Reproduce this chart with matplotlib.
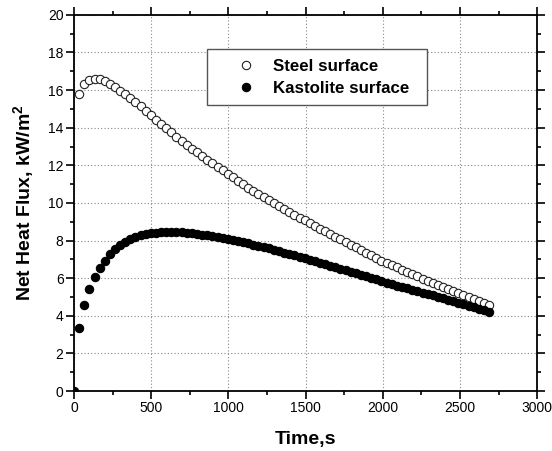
import matplotlib
matplotlib.use("Agg")
import matplotlib.pyplot as plt
from matplotlib.patches import Rectangle
from matplotlib.ticker import MultipleLocator

plt.rcParams['font.family'] = ['Liberation Sans', 'DejaVu Sans']
plt.rcParams['mathtext.fontset'] = 'custom'
plt.rcParams['mathtext.bf'] = 'Liberation Sans:bold'
plt.rcParams['mathtext.rm'] = 'Liberation Sans'

# time of each sample, s
time_s = [0, 33, 66, 100, 133, 166, 199, 232, 266, 299, 332, 365, 398, 432, 465,
          498, 531, 564, 598, 631, 664, 697, 730, 764, 797, 830, 863, 896, 930,
          963, 996, 1029, 1062, 1096, 1129, 1162, 1195, 1228, 1262, 1295, 1328,
          1361, 1394, 1428, 1461, 1494, 1527, 1560, 1594, 1627, 1660, 1693, 1726,
          1760, 1793, 1826, 1859, 1892, 1926, 1959, 1992, 2025, 2058, 2092, 2125,
          2158, 2191, 2224, 2258, 2291, 2324, 2357, 2390, 2424, 2457, 2490, 2523,
          2556, 2590, 2623, 2656, 2689]

# steel surface has no point at t=0
steel = [15.78, 16.31, 16.54, 16.60, 16.58, 16.47, 16.33, 16.15, 15.97, 15.78,
         15.57, 15.36, 15.13, 14.90, 14.66, 14.43, 14.20, 13.97, 13.75, 13.53,
         13.31, 13.10, 12.89, 12.69, 12.49, 12.30, 12.11, 11.92, 11.73, 11.54,
         11.36, 11.18, 11.00, 10.82, 10.65, 10.48, 10.31, 10.14, 9.98, 9.82,
         9.67, 9.52, 9.37, 9.22, 9.07, 8.93, 8.79, 8.64, 8.50, 8.36, 8.21, 8.07,
         7.93, 7.79, 7.64, 7.50, 7.36, 7.22, 7.07, 6.93, 6.81, 6.69, 6.57, 6.45,
         6.33, 6.21, 6.10, 5.98, 5.87, 5.75, 5.64, 5.53, 5.42, 5.31, 5.20, 5.09,
         4.98, 4.87, 4.76, 4.68, 4.60]

kastolite = [0.0, 3.37, 4.57, 5.41, 6.05, 6.53, 6.93, 7.27, 7.54, 7.77, 7.94,
             8.07, 8.18, 8.27, 8.33, 8.38, 8.41, 8.43, 8.45, 8.45, 8.45, 8.43,
             8.41, 8.38, 8.35, 8.31, 8.27, 8.23, 8.18, 8.13, 8.08, 8.03, 7.97,
             7.91, 7.85, 7.79, 7.72, 7.65, 7.58, 7.51, 7.44, 7.36, 7.29, 7.21,
             7.13, 7.05, 6.97, 6.89, 6.81, 6.73, 6.65, 6.57, 6.49, 6.41, 6.33,
             6.25, 6.17, 6.09, 6.01, 5.93, 5.85, 5.77, 5.69, 5.61, 5.53, 5.46,
             5.38, 5.30, 5.23, 5.15, 5.08, 5.00, 4.93, 4.86, 4.79, 4.70, 4.62,
             4.54, 4.45, 4.37, 4.29, 4.21]

fig = plt.figure(figsize=(5.52, 4.51), dpi=100)
ax = fig.add_axes([0.134, 0.133, 0.839, 0.834])

ax.plot(time_s[1:], steel, 'o', ms=6.0, mfc='white', mec='#222222', mew=0.8,
        label='Steel surface', zorder=3)
ax.plot(time_s, kastolite, 'o', ms=6.0, mfc='black', mec='black', mew=0.8,
        label='Kastolite surface', zorder=3)

ax.set_xlim(0, 3000)
ax.set_ylim(0, 20)
ax.xaxis.set_major_locator(MultipleLocator(500))
ax.xaxis.set_minor_locator(MultipleLocator(250))
ax.yaxis.set_major_locator(MultipleLocator(2))
ax.yaxis.set_minor_locator(MultipleLocator(1))
ax.grid(True, which='major', ls=(0, (1, 2)), color='#888888', lw=0.8)
ax.set_axisbelow(True)

for s in ax.spines.values():
    s.set_linewidth(1.3)
ax.tick_params(which='both', direction='out', top=True, right=True,
               labeltop=False, labelright=False, width=1.2, labelsize=10,
               colors='black')
ax.tick_params(which='major', length=5.5, pad=2)
ax.tick_params(which='minor', length=3)

ax.set_xlabel('Time,s', fontsize=14, fontweight='bold', labelpad=11)
ax.set_ylabel(r'Net Heat Flux, kW/m$^\mathbf{2}$', fontsize=14,
              fontweight='bold', labelpad=8)

# legend box is wider on the left than matplotlib pads it, so draw it apart
ax.add_patch(Rectangle((0.287, 0.761), 0.475, 0.149, transform=ax.transAxes,
                       facecolor='white', edgecolor='#555555', lw=1.0,
                       zorder=4))
leg = ax.legend(loc='upper left', bbox_to_anchor=(0.342, 0.883),
                prop={'weight': 'bold', 'size': 12.2}, frameon=False,
                borderpad=0, handletextpad=0.8, borderaxespad=0,
                labelspacing=0.4, handlelength=1.6)
leg.set_zorder(5)

fig.savefig('out.png', dpi=100)
